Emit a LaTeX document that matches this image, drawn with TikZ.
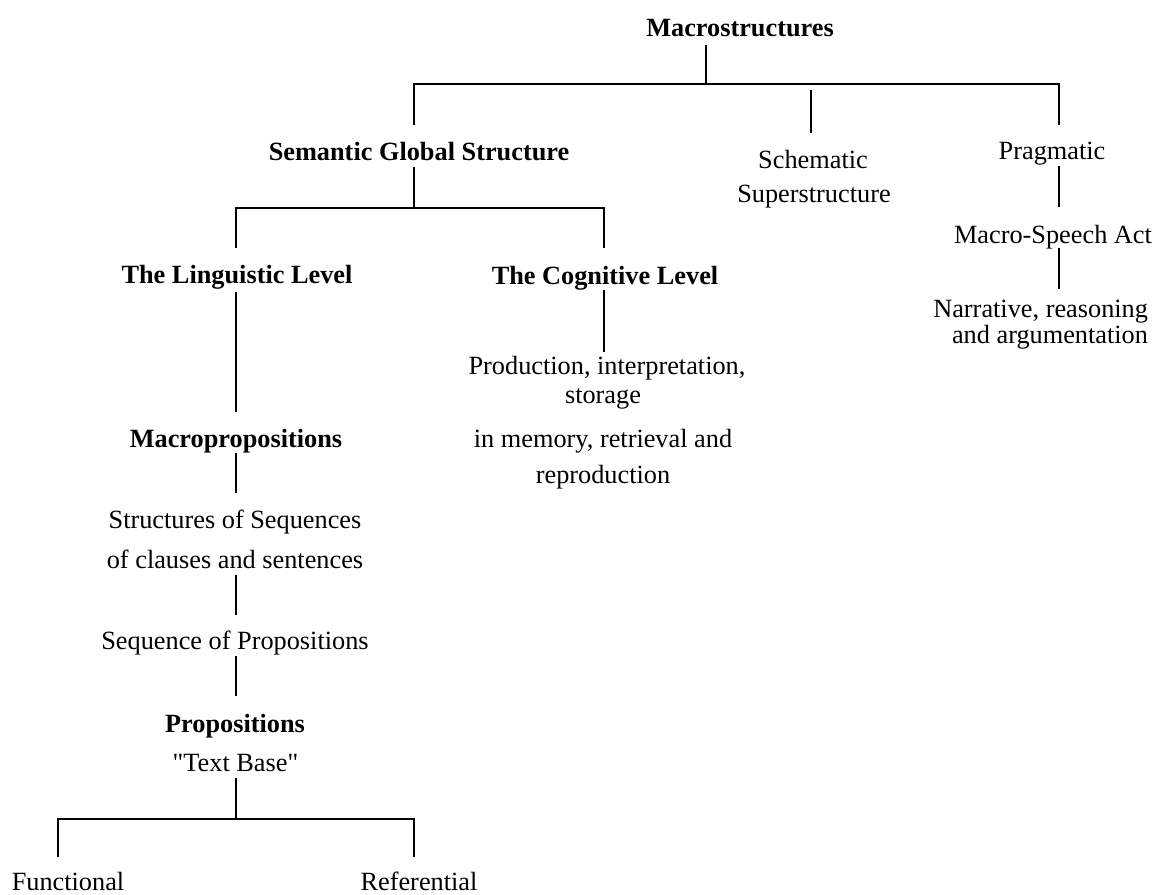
\documentclass[tikz,border=0pt]{standalone}
\usepackage{fontspec}
\setmainfont{Liberation Serif}[Ligatures=TeXOff]
\begin{document}
\begin{tikzpicture}[x=1pt,y=-1pt,
  lbl/.style={inner sep=0pt, outer sep=0pt, anchor=base,
              font=\fontsize{26.3}{30}\selectfont},
  hd/.style={lbl, font=\fontsize{26.3}{30}\selectfont\bfseries},
  conn/.style={line width=1.9pt, line cap=butt}]
\useasboundingbox (0,0) rectangle (1161,894);

% ---- labels -------------------------------------------------------
\node[hd]  (macro) at (740,36)   {Macrostructures};
\node[hd]  (sem)   at (419,160)  {Semantic Global Structure};
\node[lbl] (sch1)  at (813,168)  {Schematic};
\node[lbl] (sch2)  at (814,202)  {Superstructure};
\node[lbl] (prag)  at (1052,159) {Pragmatic};
\node[lbl] (msa)   at (1053,243) {Macro-Speech Act};
\node[lbl, anchor=base east] (nar1) at (1148,317) {Narrative, reasoning};
\node[lbl, anchor=base east] (nar2) at (1148,343) {and argumentation};

\node[hd]  (ling)  at (237,283)  {The Linguistic Level};
\node[hd]  (cog)   at (605,284)  {The Cognitive Level};
\node[lbl] (prod1) at (607,374)  {Production, interpretation,};
\node[lbl] (prod2) at (603,403)  {storage};
\node[lbl] (prod3) at (603,447)  {in memory, retrieval and};
\node[lbl] (prod4) at (603,483)  {reproduction};

\node[hd]  (macp)  at (236,447)  {Macropropositions};
\node[lbl] (str1)  at (235,528)  {Structures of Sequences};
\node[lbl] (str2)  at (235,568)  {of clauses and sentences};
\node[lbl] (seq)   at (235,649)  {Sequence of Propositions};
\node[hd]  (prop)  at (235,732)  {Propositions};
\node[lbl] (tb)    at (235.5,771) {"Text Base"};
\node[lbl] (fun)   at (68,890)   {Functional};
\node[lbl] (ref)   at (419,890)  {Referential};

% ---- connector end points ------------------------------------------
\coordinate (mA) at (706,45);   \coordinate (mB) at (706,84);
\coordinate (bL) at (414,84);   \coordinate (bR) at (1059,84);
\coordinate (semT) at (414,125);
\coordinate (schA) at (811,90); \coordinate (schB) at (811,133);
\coordinate (pragT) at (1059,125);
\coordinate (pA) at (1059,166); \coordinate (pB) at (1059,207);
\coordinate (pC) at (1059,248); \coordinate (pD) at (1059,289);

\coordinate (sA) at (414,167);  \coordinate (sB) at (414,208);
\coordinate (sL) at (236,208);  \coordinate (sR) at (604,208);
\coordinate (lingT) at (236,248); \coordinate (cogT) at (604,248);
\coordinate (cA) at (604,290);  \coordinate (cB) at (604,352);

\coordinate (lA) at (236,292);  \coordinate (lB) at (236,412);
\coordinate (qA) at (236,453);  \coordinate (qB) at (236,493);
\coordinate (rA) at (236,575);  \coordinate (rB) at (236,615);
\coordinate (tA) at (236,656);  \coordinate (tB) at (236,696);
\coordinate (uA) at (236,778);  \coordinate (uB) at (236,819);
\coordinate (uL) at (58,819);   \coordinate (uR) at (414,819);
\coordinate (funT) at (58,857); \coordinate (refT) at (414,857);

% ---- connectors -----------------------------------------------------
\draw[conn] (mA) -- (mB);
\draw[conn] (semT) -- (bL) -- (bR) -- (pragT);
\draw[conn] (schA) -- (schB);
\draw[conn] (pA) -- (pB);
\draw[conn] (pC) -- (pD);

\draw[conn] (sA) -- (sB);
\draw[conn] (lingT) -- (sL) -- (sR) -- (cogT);
\draw[conn] (cA) -- (cB);

\draw[conn] (lA) -- (lB);
\draw[conn] (qA) -- (qB);
\draw[conn] (rA) -- (rB);
\draw[conn] (tA) -- (tB);
\draw[conn] (uA) -- (uB);
\draw[conn] (funT) -- (uL) -- (uR) -- (refT);
\end{tikzpicture}
\end{document}
